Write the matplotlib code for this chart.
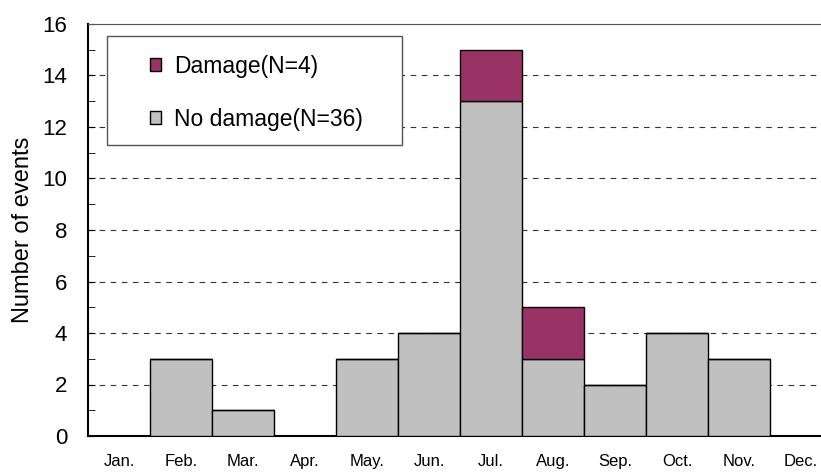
import matplotlib
matplotlib.use("Agg")
import matplotlib.pyplot as plt
import numpy as np
from matplotlib.ticker import MultipleLocator
from matplotlib.patches import Rectangle

plt.rcParams['font.family'] = ['Liberation Sans', 'DejaVu Sans']

months = ["Jan.", "Feb.", "Mar.", "Apr.", "May.", "Jun.", "Jul.", "Aug.", "Sep.", "Oct.", "Nov.", "Dec."]
no_damage = [0, 3, 1, 0, 3, 4, 13, 3, 2, 4, 3, 0]
damage = [0, 0, 0, 0, 0, 0, 2, 2, 0, 0, 0, 0]

fig = plt.figure(figsize=(8.21, 4.74), dpi=100)
# plot area runs past the right edge of the picture, like the original
ax = fig.add_axes([88/821, 38/474, 744/821, 412/474])

x = np.arange(len(months))
ax.bar(x, no_damage, width=1.0, color="#c0c0c0", edgecolor="black", linewidth=1.0,
       label="No damage(N=36)", zorder=3)
ax.bar(x, damage, width=1.0, bottom=no_damage, color="#993366", edgecolor="black",
       linewidth=1.0, label="Damage(N=4)", zorder=3)

ax.set_xlim(-0.5, 11.5)
ax.set_ylim(0, 16)
ax.set_xticks(x)
ax.set_xticklabels(months, fontsize=12)
ax.tick_params(axis="x", length=0, pad=13)
ax.yaxis.set_major_locator(MultipleLocator(2))
ax.yaxis.set_minor_locator(MultipleLocator(1))
ax.tick_params(axis="y", which="major", direction="in", length=5, labelsize=16, pad=15)
ax.tick_params(axis="y", which="minor", direction="in", length=5)
ax.set_ylabel("Number of events", fontsize=17, labelpad=6)

for v in range(2, 16, 2):
    ax.axhline(v, color="#333333", lw=0.8, ls=(0, (5, 5)), zorder=1)

ax.spines["right"].set_visible(False)
ax.spines["top"].set_color("#555555")
ax.spines["left"].set_linewidth(1.5)
ax.spines["bottom"].set_linewidth(1.5)

# legend box (drawn separately, it is much wider than the entries)
ax.add_patch(Rectangle((19/744, 291/412), 295/744, 109/412, transform=ax.transAxes,
                       facecolor="white", edgecolor="#555555", lw=1.0, zorder=5))
h, l = ax.get_legend_handles_labels()
leg = ax.legend(h[::-1], l[::-1], loc="upper left", bbox_to_anchor=(62/744, 1 - 31/412),
                fontsize=16.5, frameon=False,
                handlelength=0.5, handleheight=0.5, handletextpad=0.55,
                labelspacing=1.3, borderpad=0, borderaxespad=0)
leg.set_zorder(6)

plt.savefig("out.png", dpi=100)
